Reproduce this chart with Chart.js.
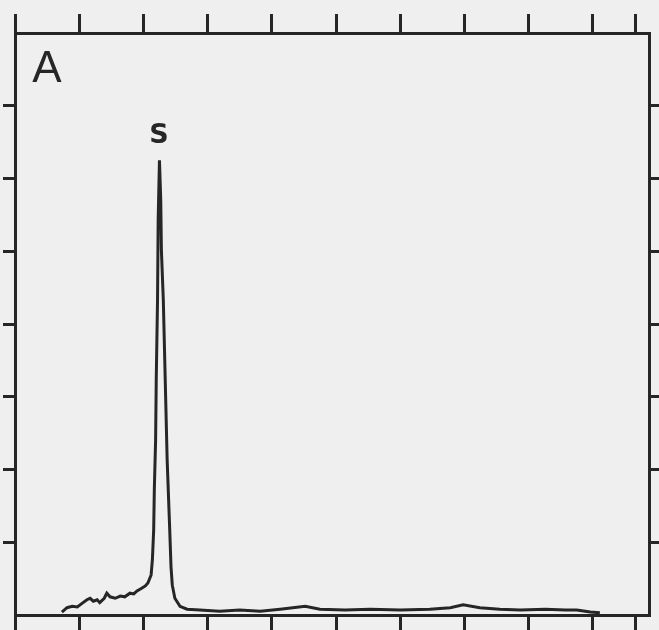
<!DOCTYPE html>
<html>
<head>
<meta charset="utf-8">
<script src="https://cdn.jsdelivr.net/npm/chart.js@4.4.1/dist/chart.umd.min.js"></script>
<style>
  html, body { margin: 0; padding: 0; background: #efefef; }
  canvas { display: block; }
</style>
</head>
<body>
<canvas id="trace" width="659" height="630"></canvas>
<script>
// trace, x and y in tick-interval units
const xValues = [
    0.73, 0.81, 0.89, 0.97, 1.06, 1.12, 1.17, 1.22, 1.28, 1.32, 1.39, 1.43, 1.48, 1.56,
    1.64, 1.71, 1.79, 1.85, 1.90, 1.96, 2.03, 2.07, 2.12, 2.14, 2.16, 2.17, 2.19, 2.20,
    2.22, 2.23, 2.25, 2.27, 2.28, 2.31, 2.34, 2.37, 2.41, 2.43, 2.45, 2.49, 2.57, 2.68,
    2.88, 3.19, 3.50, 3.82, 4.13, 4.52, 4.75, 5.14, 5.53, 6.00, 6.46, 6.78, 6.98, 7.24,
    7.55, 7.87, 8.26, 8.57, 8.75, 8.96, 9.11
];
const yValues = [
    0.04, 0.10, 0.12, 0.11, 0.17, 0.21, 0.23, 0.19, 0.21, 0.17, 0.23, 0.30, 0.25, 0.23,
    0.26, 0.25, 0.30, 0.29, 0.33, 0.36, 0.40, 0.44, 0.55, 0.76, 1.17, 1.72, 2.40, 3.23,
    4.33, 5.43, 6.25, 5.70, 5.02, 4.33, 3.23, 2.13, 1.17, 0.66, 0.41, 0.23, 0.12, 0.08,
    0.07, 0.05, 0.07, 0.05, 0.08, 0.12, 0.08, 0.07, 0.08, 0.07, 0.08, 0.10, 0.14, 0.10,
    0.08, 0.07, 0.08, 0.07, 0.07, 0.04, 0.03
];
const xTicks = [0, 1, 2, 3, 4, 5, 6, 7, 8, 9, 9.66];
const yTicks = [1, 2, 3, 4, 5, 6, 7];
const xMax = 9.875;
const yMax = 8;
const panelLabel = 'A';
const peakLabel = 'S';

const ink = '#262626';

const points = xValues.map((x, i) => ({ x: x, y: yValues[i] }));
const peakIndex = yValues.indexOf(Math.max(...yValues));

function frameAxis(position, tickLength, ticks, min, max) {
    return {
        type: 'linear',
        position: position,
        min: min,
        max: max,
        afterBuildTicks: axis => { axis.ticks = ticks.map(v => ({ value: v })); },
        ticks: { display: false },
        grid: {
            drawOnChartArea: false,
            drawTicks: true,
            tickLength: tickLength,
            lineWidth: 3,
            color: ink
        },
        border: { display: true, width: 3, color: ink }
    };
}

const labelPlugin = {
    id: 'labels',
    afterDatasetsDraw(chart) {
        const ctx = chart.ctx;
        const area = chart.chartArea;
        ctx.save();
        ctx.fillStyle = ink;
        ctx.textAlign = 'center';
        ctx.textBaseline = 'alphabetic';

        ctx.font = '44px "Liberation Sans"';
        ctx.fillText(panelLabel, area.left + 32, area.top + 49);

        const px = chart.scales.x.getPixelForValue(xValues[peakIndex]);
        const py = chart.scales.y.getPixelForValue(yValues[peakIndex]);
        ctx.font = 'bold 27px "DejaVu Sans"';
        ctx.fillText(peakLabel, px - 0.5, py - 17);
        ctx.restore();
    }
};

new Chart(document.getElementById('trace').getContext('2d'), {
    type: 'line',
    data: {
        datasets: [{
            data: points,
            borderColor: ink,
            borderWidth: 3,
            pointRadius: 0,
            tension: 0,
            fill: false
        }]
    },
    options: {
        responsive: false,
        animation: false,
        devicePixelRatio: 1,
        layout: { padding: { left: 3, top: 14, right: 0, bottom: 0 } },
        scales: {
            x: frameAxis('bottom', 15, xTicks, 0, xMax),
            xTop: frameAxis('top', 19, xTicks, 0, xMax),
            y: frameAxis('left', 12, yTicks, 0, yMax),
            yRight: frameAxis('right', 10, yTicks, 0, yMax)
        },
        plugins: {
            legend: { display: false },
            tooltip: { enabled: false }
        }
    },
    plugins: [labelPlugin]
});
</script>
</body>
</html>
